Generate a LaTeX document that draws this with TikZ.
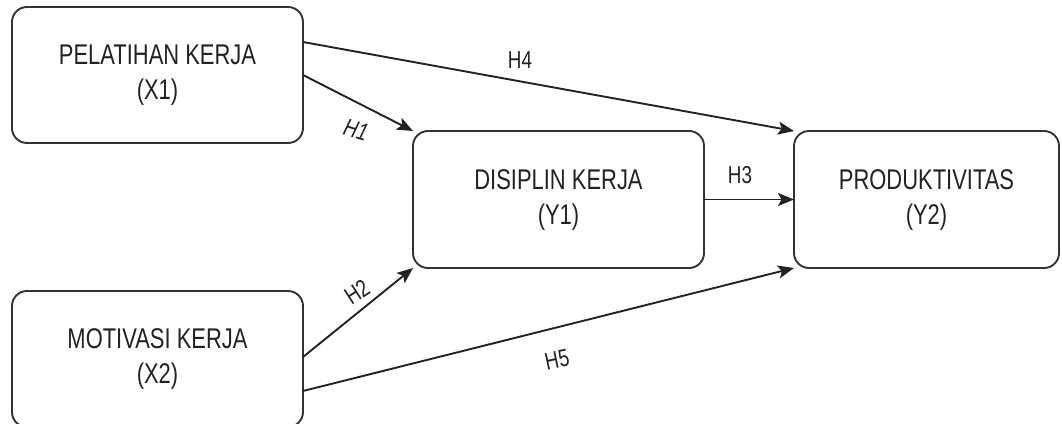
\documentclass[tikz,border=0pt]{standalone}
\usepackage{fontspec}
\setmainfont{Liberation Sans}[FakeStretch=0.77]
\usetikzlibrary{arrows.meta}
\definecolor{ink}{HTML}{333333}
\definecolor{txt}{HTML}{222222}
\tikzset{
  varbox/.style={draw=ink, line width=1.9pt, rounded corners=15pt, outer sep=0pt,
    inner sep=0pt, minimum height=136pt, align=center, text=txt,
    font=\fontsize{28.5}{35}\selectfont},
  link/.style={draw=txt, line width=1.9pt,
    -{Stealth[length=16pt, width=13pt, inset=3.5pt]}},
  hyp/.style={text=txt, inner sep=0pt, font=\fontsize{24.5}{28}\selectfont}
}
\begin{document}
\begin{tikzpicture}[x=1pt, y=-1pt]
  \useasboundingbox (0,0) rectangle (1062,423);

  % variables
  \node[varbox, minimum width=291pt] (x1) at (157.5,75) {PELATIHAN KERJA\\(X1)};
  \node[varbox, minimum width=291pt] (x2) at (157.5,359) {MOTIVASI KERJA\\(X2)};
  \node[varbox, minimum width=291pt, minimum height=137pt] (y1) at (558.5,199.5) {DISIPLIN KERJA\\(Y1)};
  \node[varbox, minimum width=265pt, minimum height=137pt] (y2) at (926.5,199.5) {PRODUKTIVITAS\\(Y2)};

  % hypothesised paths
  \draw[link] ([yshift=33pt]x1.east) -- (y2.north west);
  \draw[link] (x1.east) -- (y1.north west);
  \draw[link] ([yshift=2pt]x2.east) -- (y1.south west);
  \draw[link] ([yshift=-32pt]x2.east) -- (y2.south west);
  \draw[link] (y1.east) -- (y2.west);

  % path labels
  \node[hyp] (h4) at (520,60) {H4};
  \node[hyp, rotate=-17] (h1) at (356,130) {\itshape H1};
  \node[hyp, rotate=33] (h2) at (357,292) {H2};
  \node[hyp] (h3) at (740,175) {H3};
  \node[hyp, rotate=12] (h5) at (557,360) {H5};
\end{tikzpicture}
\end{document}
